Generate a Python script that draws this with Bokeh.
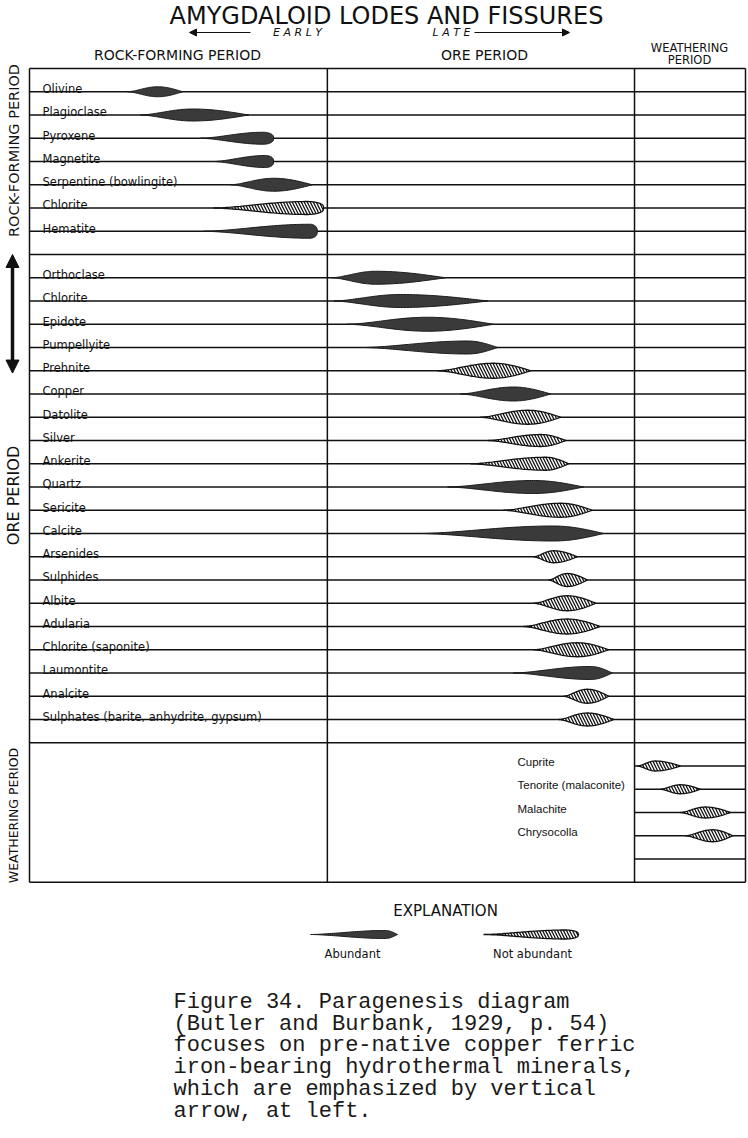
import numpy as np
from bokeh.plotting import figure
from bokeh.models import Range1d, ColumnDataSource, Arrow, NormalHead
from bokeh.embed import file_html
from bokeh.resources import INLINE
from bokeh.core.properties import value

# ---------------- DATA (relative time: 0 = left edge of diagram, 100 = right edge) -------------
period_bounds = [0.0, 41.6, 84.5, 100.0]

rock_minerals = ["Olivine", "Plagioclase", "Pyroxene", "Magnetite",
                 "Serpentine (bowlingite)", "Chlorite", "Hematite"]
rock_abundant = [True, True, True, True, True, False, True]
rock_start = [13.7, 15.5, 23.9, 25.7, 28.1, 25.7, 24.3]
rock_peak = [17.9, 22.8, 32.7, 33.0, 34.1, 38.8, 39.2]
rock_end = [21.4, 30.6, 34.1, 34.1, 39.5, 41.1, 40.2]
rock_width = [10, 12, 12, 12, 13, 13, 14]
rock_blunt = [False, False, True, True, False, True, True]

ore_minerals = ["Orthoclase", "Chlorite", "Epidote", "Pumpellyite", "Prehnite", "Copper",
                "Datolite", "Silver", "Ankerite", "Quartz", "Sericite", "Calcite",
                "Arsenides", "Sulphides", "Albite", "Adularia", "Chlorite (saponite)",
                "Laumontite", "Analcite", "Sulphates (barite, anhydrite, gypsum)"]
ore_abundant = [True, True, True, True, False, True, False, False, False, True, False, True,
                False, False, False, False, False, True, False, False]
ore_start = [42.2, 42.5, 44.4, 46.6, 57.0, 60.2, 63.0, 64.0, 61.6, 58.4, 66.2, 54.6,
             70.4, 72.5, 70.4, 69.0, 70.4, 67.6, 74.6, 73.9]
ore_peak = [48.3, 51.8, 55.6, 61.2, 64.8, 67.6, 69.6, 71.4, 72.1, 70.4, 74.2, 73.2,
            73.2, 75.1, 75.1, 75.1, 76.5, 78.4, 77.9, 77.9]
ore_end = [58.1, 64.0, 64.8, 65.4, 70.0, 72.8, 74.2, 74.9, 75.3, 77.4, 78.6, 80.2,
           76.5, 77.9, 79.1, 79.7, 80.9, 81.4, 80.9, 81.6]
ore_width = [13, 13, 14, 13, 15, 14, 14, 12, 13, 13, 14, 15,
             12, 13, 15, 15, 14, 13, 14, 13]
ore_blunt = [False] * 20

weath_minerals = ["Cuprite", "Tenorite (malaconite)", "Malachite", "Chrysocolla"]
weath_abundant = [False, False, False, False]
weath_start = [84.9, 88.1, 90.9, 91.6]
weath_peak = [87.4, 90.9, 94.4, 95.4]
weath_end = [90.9, 93.7, 97.9, 98.2]
weath_width = [10, 9, 11, 12]
weath_blunt = [False, False, False, False]

emphasized = ["Orthoclase", "Chlorite", "Epidote", "Pumpellyite"]

title_text = "AMYGDALOID LODES AND FISSURES"
caption_lines = ["Figure 34.  Paragenesis diagram",
                 "(Butler and Burbank, 1929, p. 54)",
                 "focuses on pre-native copper ferric",
                 "iron-bearing hydrothermal minerals,",
                 "which are emphasized by vertical",
                 "arrow, at left."]

# ---------------- LAYOUT ----------------
ROW_PX = 23.25
PX_T = 7.16
W, H = 748, 1138
x0 = (0 - 29) / PX_T
y_top = (0 - 68) / ROW_PX
p = figure(width=W, height=H, output_backend="svg", toolbar_location=None,
           x_range=Range1d(x0, x0 + W / PX_T),
           y_range=Range1d(y_top + H / ROW_PX, y_top),
           x_axis_location=None, y_axis_location=None, min_border=0, title=None)
p.grid.visible = False
p.outline_line_color = None
p.background_fill_color = "white"
p.border_fill_color = "white"

INK = "#111111"
LBL_FONT = value("DejaVu Sans")

n_rock = len(rock_minerals)
rock_rows = [i + 1 for i in range(n_rock)]
sep1 = n_rock + 1
ore_rows = [sep1 + 1 + j for j in range(len(ore_minerals))]
sep2 = ore_rows[-1] + 1
weath_rows = [sep2 + 1 + k for k in range(len(weath_minerals))]
extra_rows = [weath_rows[-1] + 1]
bottom = extra_rows[-1] + 1

# horizontal row lines across all columns
full_rows = [0] + rock_rows + [sep1] + ore_rows + [sep2, bottom]
p.segment(x0=[period_bounds[0]] * len(full_rows), x1=[period_bounds[-1]] * len(full_rows),
          y0=full_rows, y1=full_rows, line_color=INK, line_width=1.5)
wrows = weath_rows + extra_rows
p.segment(x0=[period_bounds[2]] * len(wrows), x1=[period_bounds[-1]] * len(wrows),
          y0=wrows, y1=wrows, line_color=INK, line_width=1.5)
# vertical period boundaries
p.segment(x0=period_bounds, x1=period_bounds, y0=[0] * 4, y1=[bottom] * 4,
          line_color=INK, line_width=1.5)


def lens(t0, tp, t1, w, blunt, y):
    hh = w / 2.0 / ROW_PX
    tl = np.linspace(t0, tp, 40)
    hl = hh * np.clip(np.sin(np.pi / 2 * (tl - t0) / (tp - t0)), 0, 1) ** 1.6
    tr = np.linspace(tp, t1, 30)[1:]
    b = 0.35 if blunt else 1.0
    hr = hh * np.clip(np.cos(np.pi / 2 * (tr - tp) / (t1 - tp)), 0, 1) ** b
    ts = np.concatenate([tl, tr])
    hs = np.concatenate([hl, hr])
    return list(np.concatenate([ts, ts[::-1]])), list(np.concatenate([y - hs, (y + hs)[::-1]]))


dark = {"xs": [], "ys": []}
light = {"xs": [], "ys": []}
groups = [(rock_rows, rock_abundant, rock_start, rock_peak, rock_end, rock_width, rock_blunt),
          (ore_rows, ore_abundant, ore_start, ore_peak, ore_end, ore_width, ore_blunt),
          (weath_rows, weath_abundant, weath_start, weath_peak, weath_end, weath_width, weath_blunt)]
for rows, ab, st, pk, en, wd, bl in groups:
    for r, a, s, pp, e, w, b in zip(rows, ab, st, pk, en, wd, bl):
        xs, ys = lens(s, pp, e, w, b, r)
        tgt = dark if a else light
        tgt["xs"].append(xs)
        tgt["ys"].append(ys)


def T(xpx):
    return (xpx - 29) / PX_T


def Y(ypx):
    return (ypx - 68) / ROW_PX


# legend symbols (layout)
LEG_Y = Y(934)
xs, ys = lens(T(310), T(385), T(397), 8, False, LEG_Y)
dark["xs"].append(xs); dark["ys"].append(ys)
xs, ys = lens(T(483), T(565), T(578), 9, True, LEG_Y)
light["xs"].append(xs); light["ys"].append(ys)

p.patches("xs", "ys", source=ColumnDataSource(dark), fill_color="#3a3a3a",
          line_color="#1a1a1a", line_width=1)
p.patches("xs", "ys", source=ColumnDataSource(light), fill_color="white",
          line_color=INK, line_width=1.3, hatch_pattern="\\", hatch_color=INK,
          hatch_scale=6, hatch_weight=1.3)

# mineral labels
lab_x = T(42)
lab_names = rock_minerals + ore_minerals
lab_rows = rock_rows + ore_rows
p.text(x=[lab_x] * len(lab_names), y=[r - 0.11 for r in lab_rows], text=lab_names,
       text_font=LBL_FONT, text_font_size="11.5px", text_baseline="alphabetic",
       text_align="left", text_color=INK)
p.text(x=[T(517)] * len(weath_minerals), y=[r - 0.17 for r in weath_rows],
       text=weath_minerals, text_font=value("Liberation Sans"), text_font_size="11.5px",
       text_baseline="middle", text_align="left", text_color=INK)


def label(x, y, s, size, font="DejaVu Sans", angle=0.0, align="center",
          baseline="middle", style="normal", color=INK):
    p.text(x=[x], y=[y], text=[s], text_font=value(font), text_font_size=size,
           text_align=align, text_baseline=baseline, angle=angle,
           text_font_style=style, text_color=color)


# headers
label(T(386), Y(15), title_text, "24px")
label(T(297), Y(32), "E A R L Y", "11px", style="italic")
label(T(451), Y(32), "L A T E", "11px", style="italic")
p.add_layout(Arrow(end=NormalHead(size=7, fill_color=INK, line_color=INK),
                   x_start=T(250), y_start=Y(32), x_end=T(189), y_end=Y(32),
                   line_width=1.2, line_color=INK))
p.add_layout(Arrow(end=NormalHead(size=7, fill_color=INK, line_color=INK),
                   x_start=T(474), y_start=Y(32), x_end=T(569), y_end=Y(32),
                   line_width=1.2, line_color=INK))
label(T(177), Y(54), "ROCK-FORMING PERIOD", "14px")
label(T(484), Y(54), "ORE PERIOD", "14px")
label(T(689), Y(47), "WEATHERING", "11.5px")
label(T(689), Y(59), "PERIOD", "11.5px")

# left vertical labels
label(T(13), Y(150), "ROCK-FORMING PERIOD", "14.5px", angle=np.pi / 2)
label(T(13), Y(495), "ORE PERIOD", "16px", angle=np.pi / 2)
label(T(13), Y(815), "WEATHERING PERIOD", "12.5px", angle=np.pi / 2)

# vertical emphasis arrow spanning the emphasized minerals' rows
em_rows = [ore_rows[ore_minerals.index(m)] for m in emphasized]
p.add_layout(Arrow(start=NormalHead(size=13, fill_color=INK, line_color=INK),
                   end=NormalHead(size=13, fill_color=INK, line_color=INK),
                   x_start=T(12), y_start=min(em_rows) - 1.0, x_end=T(12),
                   y_end=max(em_rows) + 1.1, line_width=3.5, line_color=INK))

# explanation
label(T(445), Y(910), "EXPLANATION", "15px")
label(T(352), Y(953), "Abundant", "11.5px")
label(T(532), Y(953), "Not abundant", "11.5px")

# caption
cap_y0 = Y(1002)
cap_step = 21.7 / ROW_PX
p.text(x=[T(173)] * len(caption_lines), y=[cap_y0 + i * cap_step for i in range(len(caption_lines))],
       text=caption_lines, text_font=value("Liberation Mono"), text_font_size="22px",
       text_baseline="alphabetic", text_align="left", text_color="#1a1a1a")

open("out.html", "w").write(file_html(p, INLINE))
